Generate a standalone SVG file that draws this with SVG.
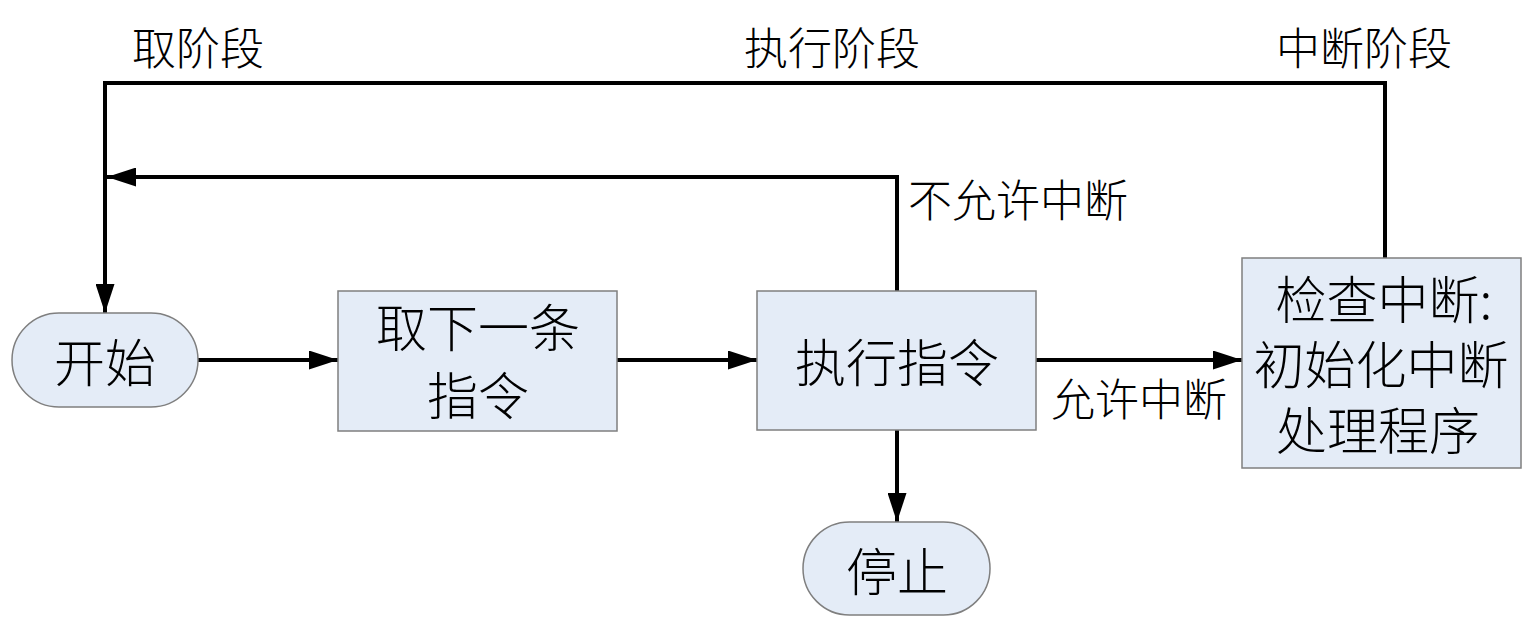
<svg xmlns="http://www.w3.org/2000/svg" width="1540" height="628" viewBox="0 0 1540 628">
<style>
.node{fill:#e4ecf7;stroke:#7f7f7f;stroke-width:1.5}
.t{font-family:"Noto Sans CJK SC","Noto Sans",sans-serif;fill:#000;text-anchor:middle;dominant-baseline:central;font-weight:300}
.nt{font-size:51px}
.lt{font-size:44px}
.c{fill:none;stroke:#000;stroke-width:4}
</style>
<defs>
<marker id="ah" viewBox="0 0 29 19" refX="29" refY="9.5" markerWidth="29" markerHeight="19" markerUnits="userSpaceOnUse" orient="auto">
<path d="M0,0 L29,9.5 L0,19 Z" fill="#000"/>
</marker>
</defs>
<rect width="1540" height="628" fill="#fff"/>
<g id="connectors">
<path class="c" d="M1385,258 L1385,83 L105,83 L105,313" marker-end="url(#ah)"/>
<path class="c" d="M897,291 L897,177 L107,177" marker-end="url(#ah)"/>
<path class="c" d="M198,360 L338,360" marker-end="url(#ah)"/>
<path class="c" d="M617,360 L757,360" marker-end="url(#ah)"/>
<path class="c" d="M1036,360 L1242,360" marker-end="url(#ah)"/>
<path class="c" d="M897,430 L897,522" marker-end="url(#ah)"/>
</g>
<g id="labels">
<text class="t lt" x="198" y="46">取阶段</text>
<text class="t lt" x="832" y="46">执行阶段</text>
<text class="t lt" x="1364" y="46">中断阶段</text>
<text class="t lt" x="1018" y="198">不允许中断</text>
<text class="t lt" x="1139" y="397">允许中断</text>
</g>
<g id="start">
<rect class="node" x="12" y="313" width="186" height="94" rx="47" ry="47"/>
<text class="t nt" x="105" y="360">开始</text>
</g>
<g id="fetch">
<rect class="node" x="338" y="291" width="279" height="140"/>
<text class="t nt" x="478" y="325">取下一条</text>
<text class="t nt" x="478" y="393">指令</text>
</g>
<g id="execute">
<rect class="node" x="757" y="291" width="279" height="139"/>
<text class="t nt" x="897" y="360">执行指令</text>
</g>
<g id="interrupt">
<rect class="node" x="1242" y="258" width="279" height="210"/>
<text class="t nt" x="1384" y="297">检查中断:</text>
<text class="t nt" x="1381" y="362">初始化中断</text>
<text class="t nt" x="1378" y="428">处理程序</text>
</g>
<g id="stop">
<rect class="node" x="803" y="522" width="187" height="93" rx="46.5" ry="46.5"/>
<text class="t nt" x="897" y="569">停止</text>
</g>
</svg>
